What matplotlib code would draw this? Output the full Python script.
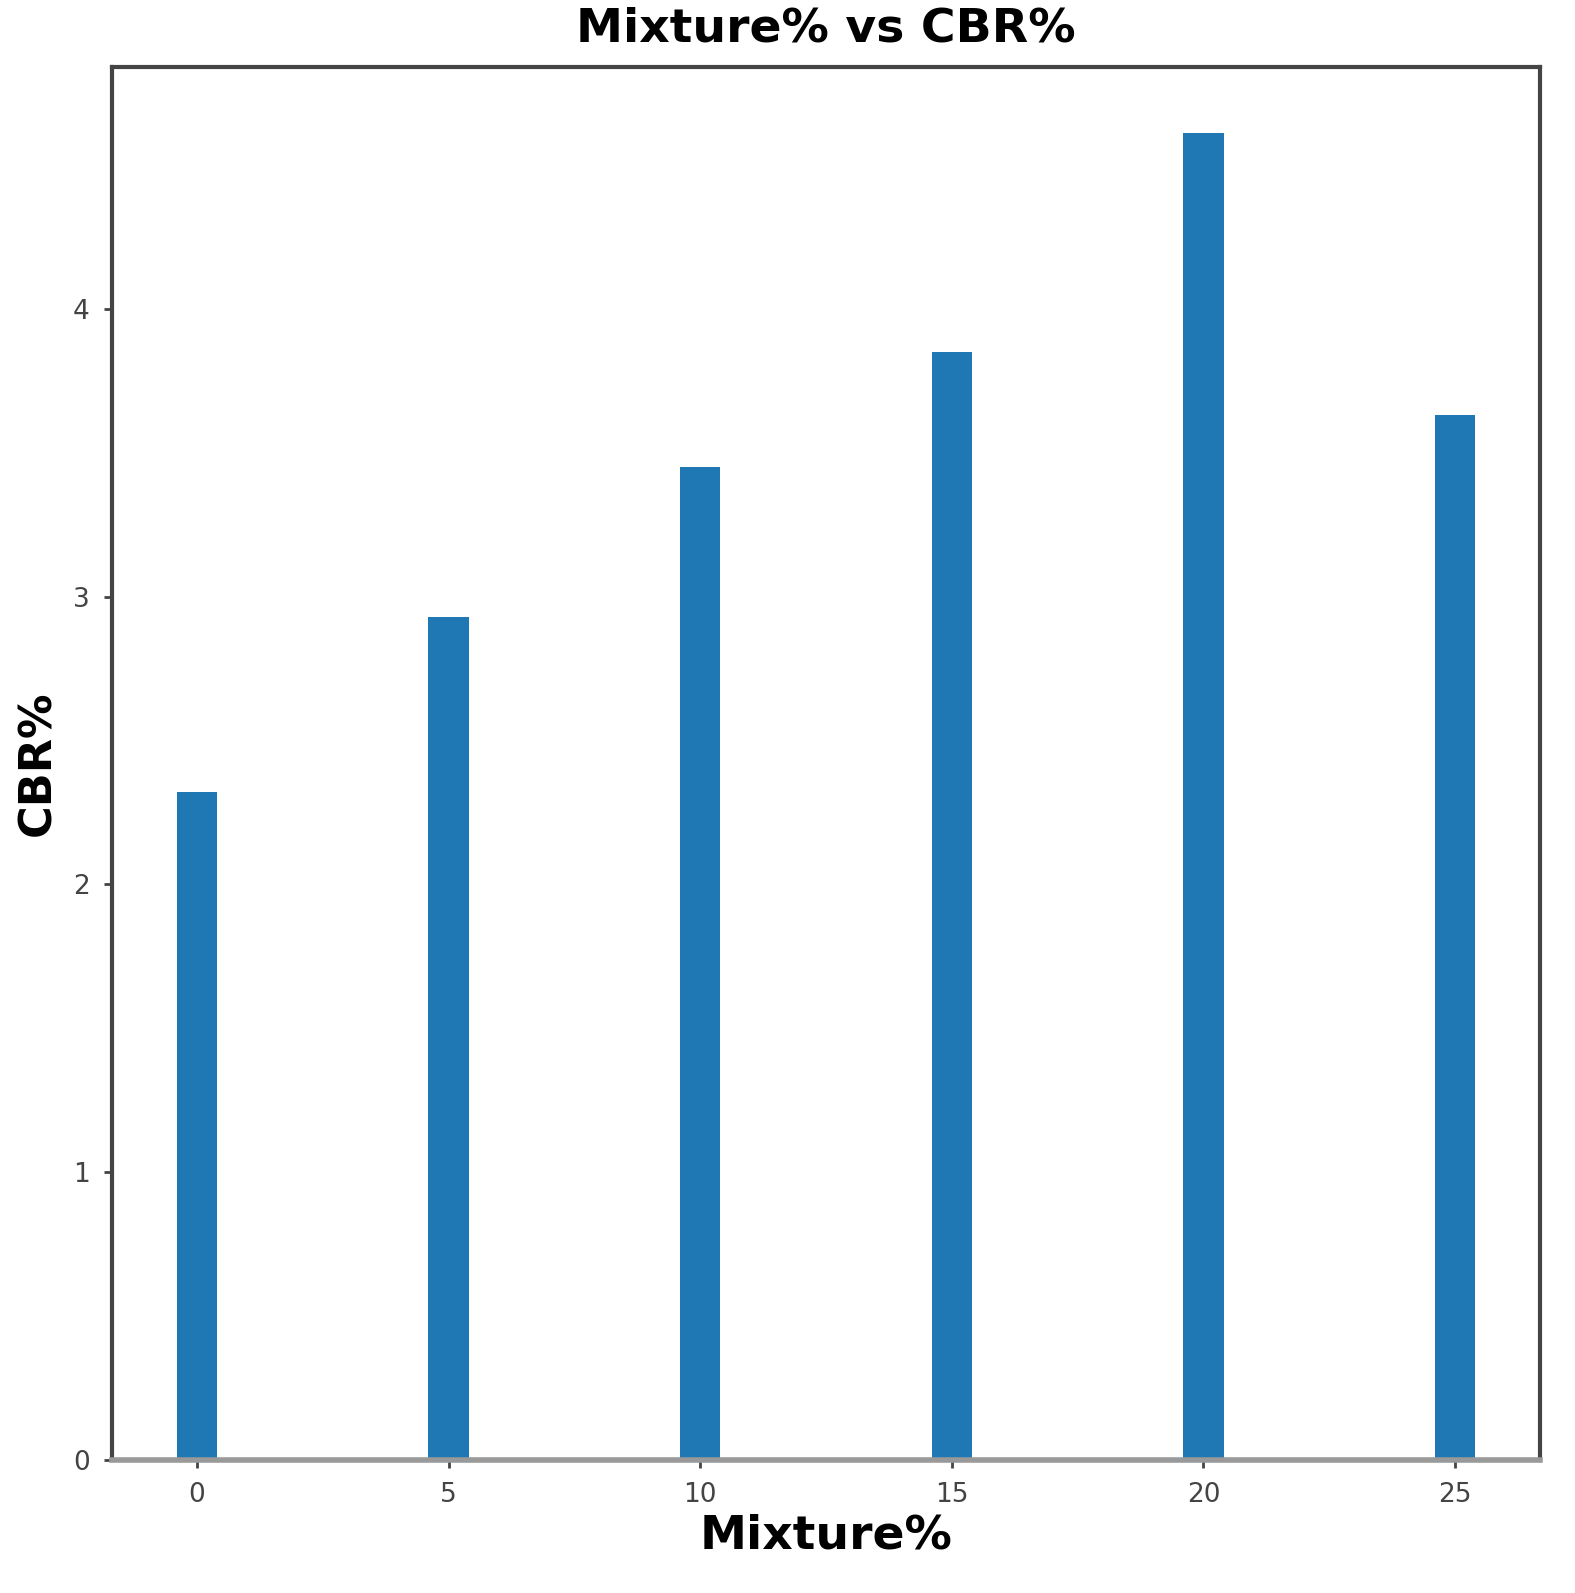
import matplotlib.pyplot as plt

# Mixture percentage vs CBR values
mixture = [0, 5, 10, 15, 20, 25]
cbr = [2.32, 2.93, 3.45, 3.85, 4.61, 3.63]

fig = plt.figure(figsize=(15.75, 15.93), dpi=100)
ax = fig.add_axes([0.0711, 0.0835, 0.9067, 0.8745])

ax.bar(mixture, cbr, width=0.8, color="#1f77b4")

ax.set_xticks(mixture)
ax.set_yticks([0, 1, 2, 3, 4])
ax.tick_params(labelsize=19, colors="#444444", length=6, width=2, pad=10)

for side in ["left", "top", "right"]:
    ax.spines[side].set_color("#444444")
    ax.spines[side].set_linewidth(3)
ax.spines["bottom"].set_color("#999999")
ax.spines["bottom"].set_linewidth(4)

ax.set_title("Mixture% vs CBR%", fontsize=34, fontweight="bold", pad=18)
ax.set_xlabel("Mixture%", fontsize=34, fontweight="bold", labelpad=4)
ax.set_ylabel("CBR%", fontsize=32, fontweight="bold", labelpad=10)

fig.savefig("out.png", dpi=100)
